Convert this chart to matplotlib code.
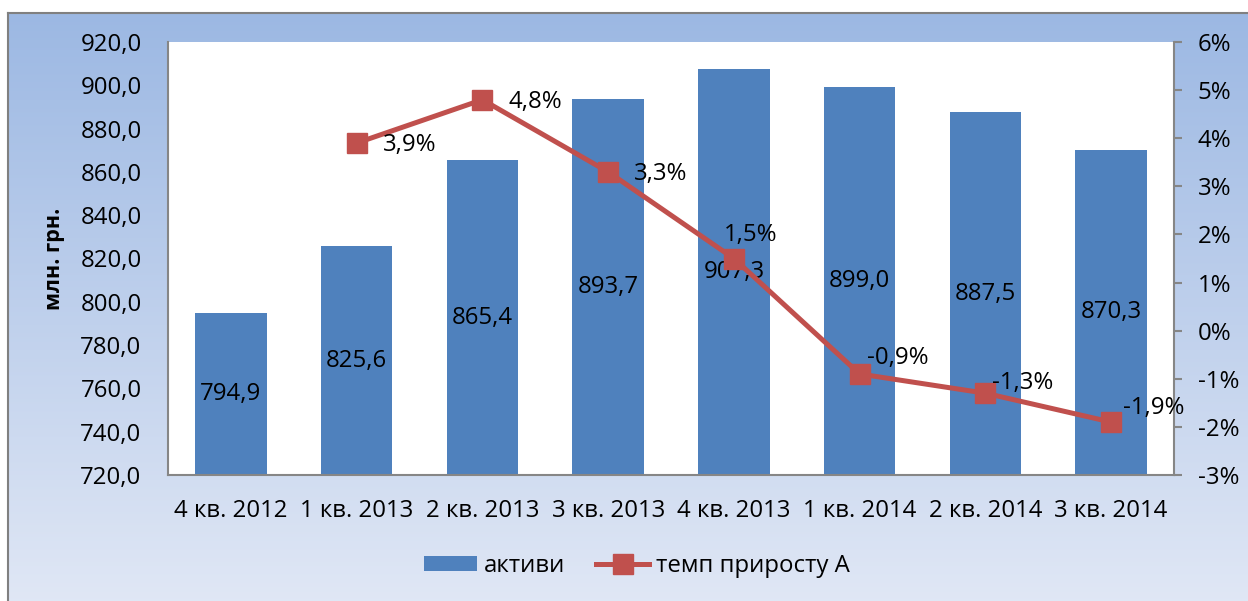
import numpy as np
import matplotlib
matplotlib.use("Agg")
import matplotlib.pyplot as plt
from matplotlib.ticker import FuncFormatter, MultipleLocator

plt.rcParams['font.family'] = ['Open Sans', 'DejaVu Sans']

categories = ["4 кв. 2012", "1 кв. 2013", "2 кв. 2013", "3 кв. 2013",
              "4 кв. 2013", "1 кв. 2014", "2 кв. 2014", "3 кв. 2014"]
assets = [794.9, 825.6, 865.4, 893.7, 907.3, 899.0, 887.5, 870.3]
growth = [np.nan, 3.9, 4.8, 3.3, 1.5, -0.9, -1.3, -1.9]
bar_name = "активи"
line_name = "темп приросту А"
ylabel = "млн. грн."

# label offsets (pixels) for the percent labels: (dx, dy, ha)
pct_offsets = [None, (26, -2, 'left'), (26, -2, 'left'), (26, -2, 'left'),
               (17, 24, 'center'), (7, 16, 'left'), (7, 10, 'left'), (12, 14, 'left')]

FS = 17.3

W, H = 1248, 601
fig = plt.figure(figsize=(W / 100, H / 100), dpi=100)
fig.patch.set_facecolor('white')

# background chart area with vertical gradient
bg = fig.add_axes([8 / W, 0, 1 - 8 / W, (H - 13) / H])
top = np.array([0.612, 0.722, 0.890])
bot = np.array([0.878, 0.906, 0.961])
t = np.linspace(0, 1, 256)[:, None]
grad = top[None, :] * (1 - t) + bot[None, :] * t
bg.imshow(grad[:, None, :], aspect='auto', extent=[0, 1, 0, 1], origin='upper')
bg.set_xlim(0, 1)
bg.set_ylim(0, 1)
bg.set_xticks([])
bg.set_yticks([])
for s in ['right', 'bottom']:
    bg.spines[s].set_visible(False)
for s in ['left', 'top']:
    bg.spines[s].set_color('#808080')
    bg.spines[s].set_linewidth(1.5)
bg.set_zorder(0)

L, R, T, B = 168, 1174, 42, 475
ax = fig.add_axes([L / W, (H - B) / H, (R - L) / W, (B - T) / H])
ax.set_zorder(1)
ax.set_facecolor('white')
x = np.arange(len(categories))
bars = ax.bar(x, assets, width=0.57, color='#4F81BD', zorder=2)
ax.set_xlim(-0.5, len(categories) - 0.5)
ax.set_ylim(720, 920)
ax.yaxis.set_major_locator(MultipleLocator(20))
ax.yaxis.set_major_formatter(FuncFormatter(lambda v, p: f"{v:.1f}".replace('.', ',')))
ax.set_xticks(x)
ax.set_xticklabels(categories)
ax.tick_params(axis='x', length=0, pad=17, labelsize=FS)
ax.tick_params(axis='y', length=0, pad=19, labelsize=FS)
for s in ['top', 'right']:
    ax.spines[s].set_visible(False)
for s in ['left', 'bottom']:
    ax.spines[s].set_color('#868686')
    ax.spines[s].set_linewidth(1.5)
ax.set_ylabel(ylabel, fontsize=15.5, fontweight='bold')
ax.yaxis.set_label_coords(-0.102, 0.5)

for xi, v in zip(x, assets):
    ax.text(xi, (720 + v) / 2, f"{v:.1f}".replace('.', ','), ha='center', va='center',
            fontsize=FS, color='black', zorder=3)

ax2 = ax.twinx()
ax2.set_ylim(-3, 6)
ax2.yaxis.set_major_locator(MultipleLocator(1))
ax2.yaxis.set_major_formatter(FuncFormatter(lambda v, p: f"{int(round(v))}%"))
ax2.tick_params(axis='y', length=6, width=1.5, color='#868686', pad=11, labelsize=FS)
for s in ['top', 'left', 'bottom']:
    ax2.spines[s].set_visible(False)
ax2.spines['right'].set_color('#868686')
ax2.spines['right'].set_linewidth(1.5)
line, = ax2.plot(x, growth, color='#C0504D', linewidth=3.6, marker='s', markersize=14,
                 markerfacecolor='#C0504D', markeredgecolor='#C0504D', zorder=4)
for xi, g, off in zip(x, growth, pct_offsets):
    if off is None or np.isnan(g):
        continue
    dx, dy, ha = off
    ax2.annotate(f"{g:.1f}%".replace('.', ','), (xi, g), xytext=(dx * 0.72, dy * 0.72),
                 textcoords='offset points', ha=ha, va='center', fontsize=FS, zorder=5)

fig.legend([bars, line], [bar_name, line_name], loc='center',
           bbox_to_anchor=(637 / W, 1 - 566 / H), ncol=2, frameon=False,
           fontsize=FS, handlelength=2.2, handletextpad=0.3, columnspacing=1.3,
           handleheight=0.6)

fig.savefig("out.png", dpi=100, facecolor=fig.get_facecolor())
